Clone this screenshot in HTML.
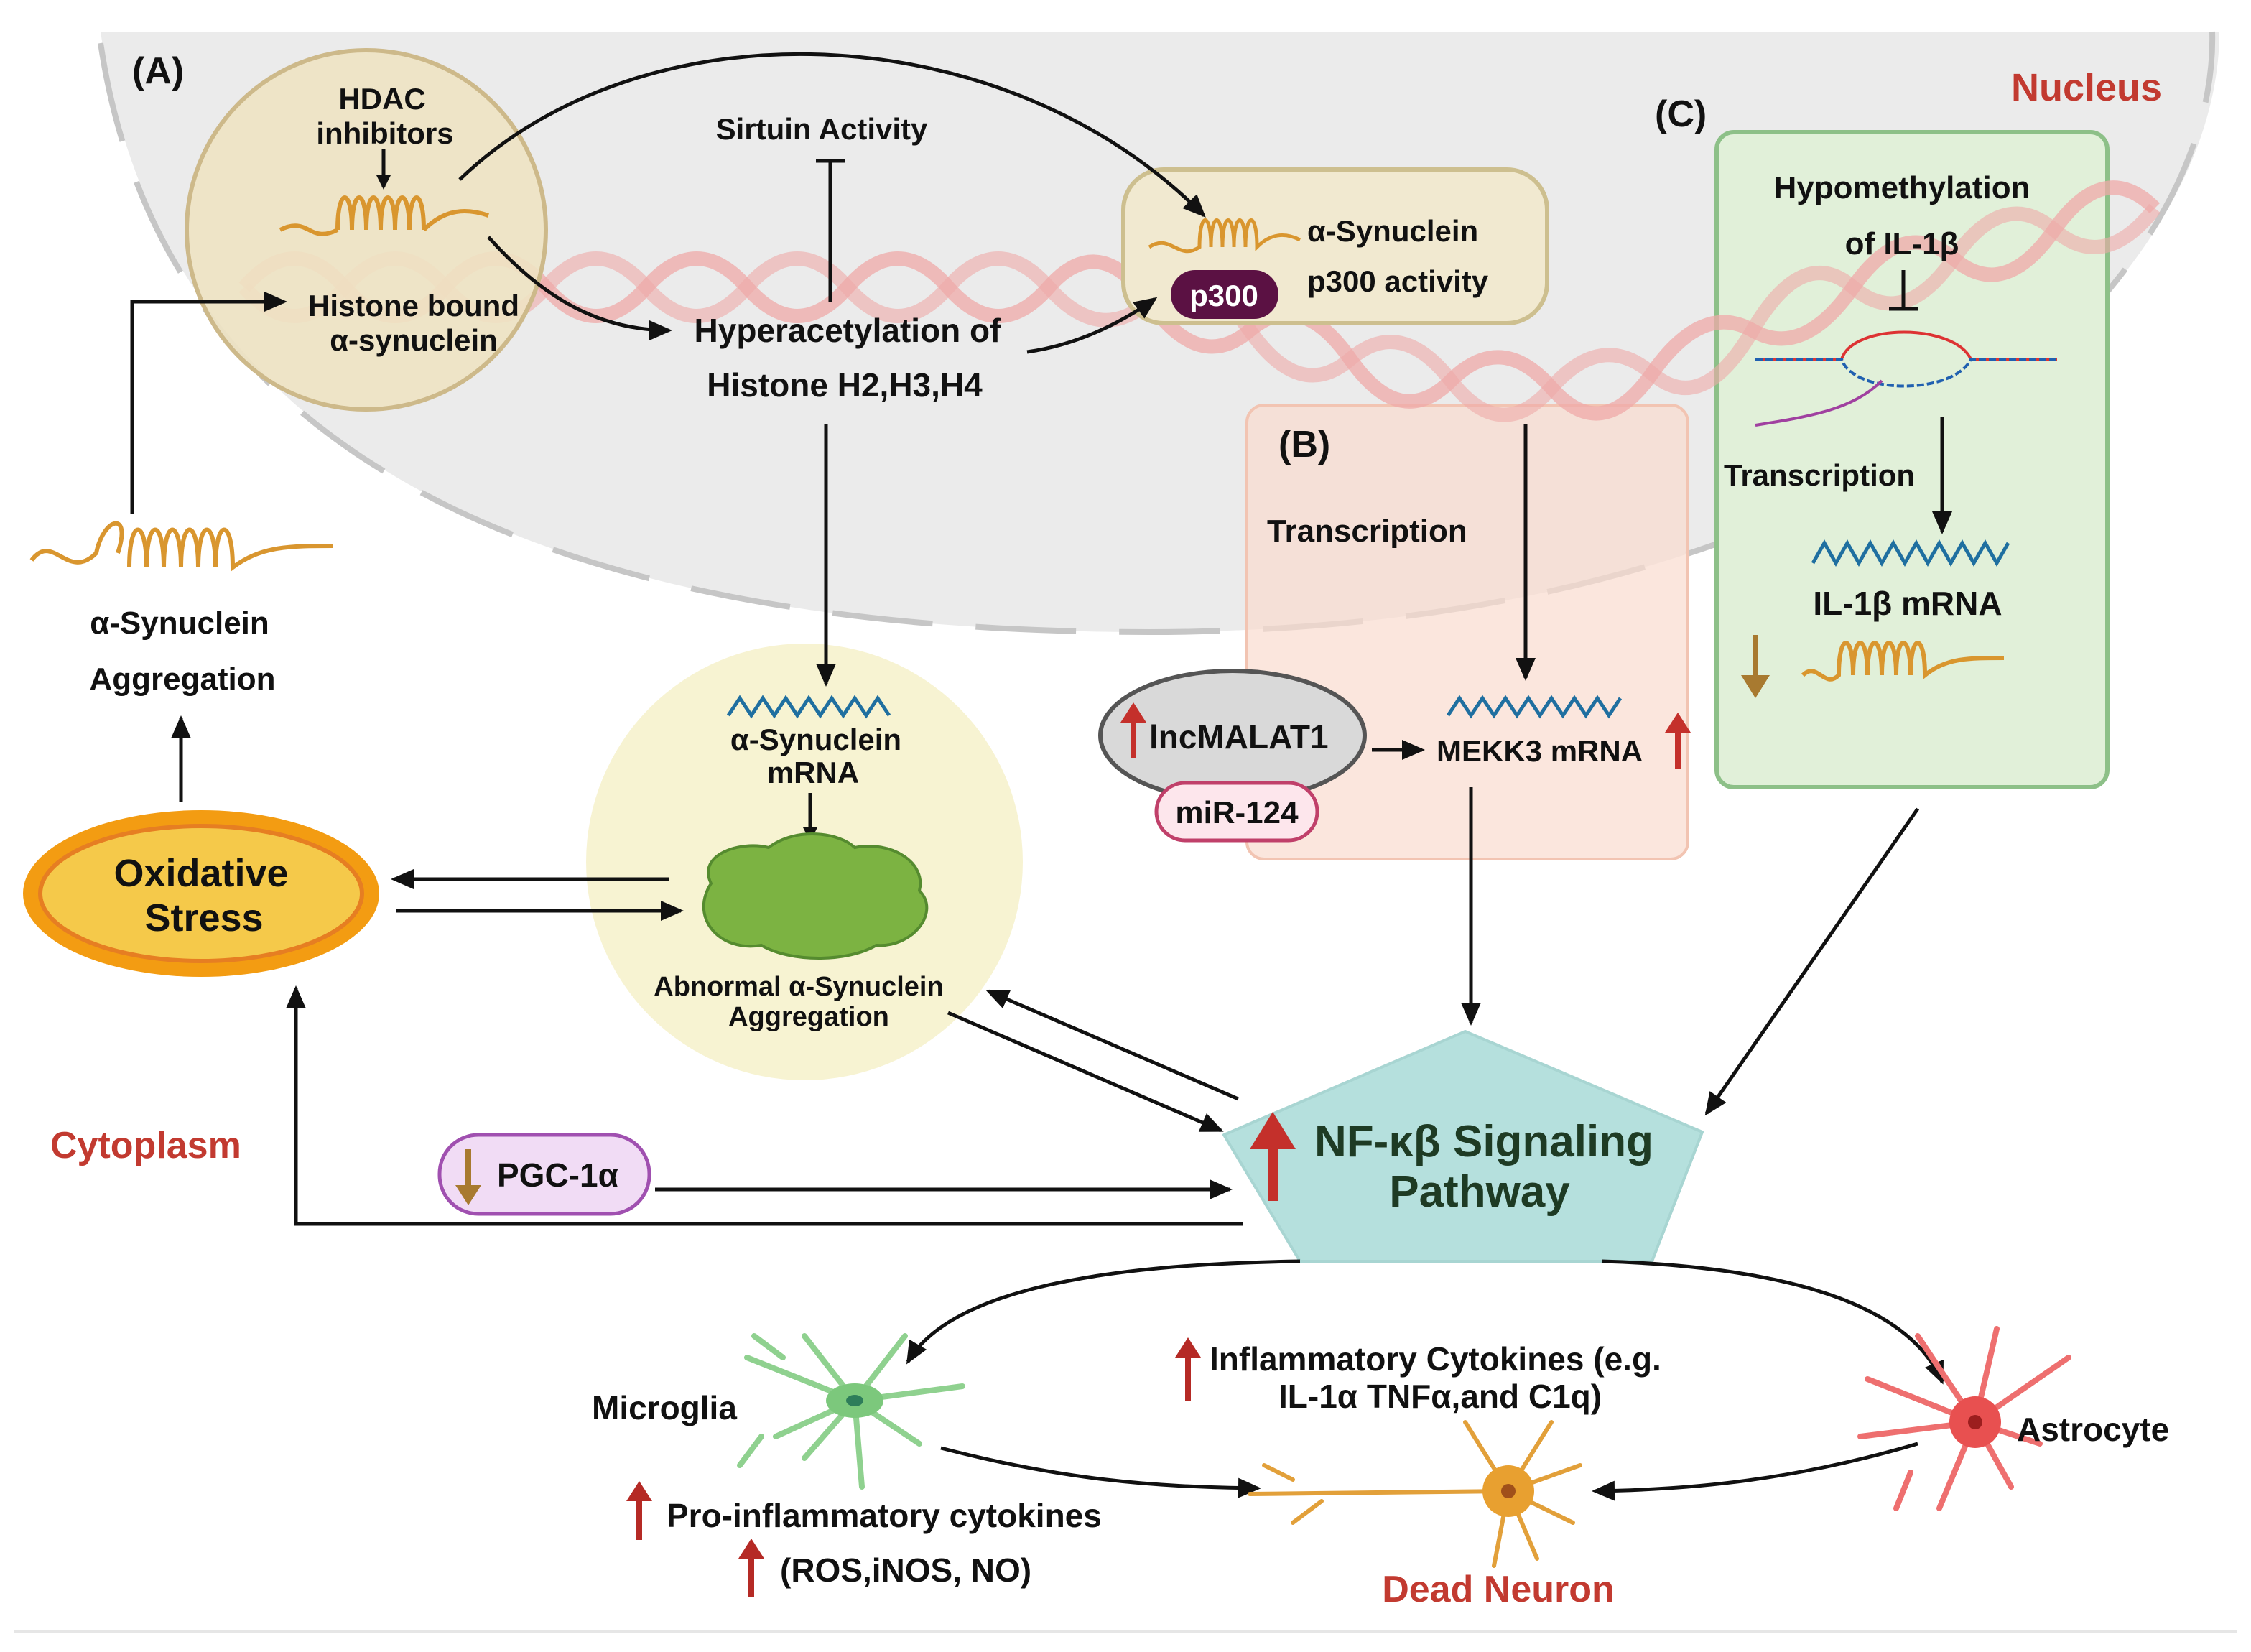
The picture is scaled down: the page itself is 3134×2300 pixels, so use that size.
<!DOCTYPE html>
<html><head><meta charset="utf-8"><style>
html,body{margin:0;padding:0;background:#fff}
svg{display:block}
text{font-family:"Liberation Sans",sans-serif;font-weight:bold;fill:#111}
</style></head><body>
<svg width="3134" height="2300" viewBox="0 0 1567 1150" xmlns="http://www.w3.org/2000/svg">
<defs>
<marker id="ah" markerWidth="10" markerHeight="10" refX="8" refY="5" orient="auto" markerUnits="userSpaceOnUse"><path d="M0,0 L10,5 L0,10 z" fill="#111"/></marker>
<marker id="ah2" markerWidth="16" markerHeight="14" refX="14" refY="7" orient="auto" markerUnits="userSpaceOnUse"><path d="M0,0 L16,7 L0,14 z" fill="#111"/></marker>
</defs>
<rect width="1567" height="1150" fill="#fff"/>
<!-- nucleus -->
<path d="M70,22 L1545,22 C1545,200 1300,440 800,440 C350,440 110,300 70,22 Z" fill="#ebebeb"/>
<path d="M70,30 C110,300 350,440 800,440 C1300,440 1545,200 1540,22" fill="none" stroke="#c6c6c6" stroke-width="4" stroke-dasharray="70,30"/>
<line x1="10" y1="1136" x2="1557" y2="1136" stroke="#e6e6e6" stroke-width="2"/>
<!-- boxes -->
<rect x="868" y="282" width="307" height="316" rx="12" fill="#f9dccf" fill-opacity="0.7" stroke="#f2c4b2" stroke-width="2"/>
<rect x="1195" y="92" width="272" height="456" rx="12" fill="#e1f0d9" stroke="#8dc088" stroke-width="3"/>
<!-- DNA helix -->
<path d="M170,200 Q205,160 240,200 T310,200 T380,200 T450,200 T520,200 T590,200 T660,200 T730,200 T800,210 T870,230 T940,250 T1010,265 T1080,270 T1150,260 T1220,230 T1290,200 T1360,180 T1430,160 T1500,145" fill="none" stroke="#efaaa8" stroke-width="10" stroke-opacity="0.75"/>
<path d="M170,200 Q205,240 240,200 T310,200 T380,200 T450,200 T520,200 T590,200 T660,200 T730,200 T800,210 T870,230 T940,250 T1010,265 T1080,270 T1150,260 T1220,230 T1290,200 T1360,180 T1430,160 T1500,145" fill="none" stroke="#efaaa8" stroke-width="10" stroke-opacity="0.6"/>
<circle cx="255" cy="160" r="125" fill="#eee3c3" fill-opacity="0.9" stroke="#cdb98a" stroke-width="3"/>
<rect x="782" y="118" width="295" height="107" rx="28" fill="#f1e9d0" stroke="#cdbf8f" stroke-width="3"/>
<circle cx="560" cy="600" r="152" fill="#f7f3d2"/>
<!-- labels -->
<text x="92" y="58" font-size="26">(A)</text>
<text x="1400" y="70" font-size="27" fill="#c23a30" style="fill:#c23a30">Nucleus</text>
<text x="1152" y="88" font-size="26">(C)</text>
<text x="890" y="318" font-size="26">(B)</text>
<text x="266" y="76" font-size="21" text-anchor="middle">HDAC</text>
<text x="268" y="100" font-size="21" text-anchor="middle">inhibitors</text>
<line x1="267" y1="104" x2="267" y2="130" stroke="#111" stroke-width="2.5" marker-end="url(#ah)"/>
<path d="M195,160 c20,-10 20,10 40,0 M235,160 c0,-30 10,-30 10,0 c0,-30 10,-30 10,0 c0,-30 10,-30 10,0 c0,-30 10,-30 10,0 c0,-30 10,-30 10,0 c0,-30 10,-30 10,0 M295,160 c15,-15 30,-15 45,-10" fill="none" stroke="#d9962f" stroke-width="3"/>
<text x="288" y="220" font-size="21" text-anchor="middle">Histone bound</text>
<text x="288" y="244" font-size="21" text-anchor="middle">α-synuclein</text>
<text x="572" y="97" font-size="21" text-anchor="middle">Sirtuin Activity</text>
<line x1="578" y1="210" x2="578" y2="112" stroke="#111" stroke-width="2.5"/>
<line x1="568" y1="112" x2="588" y2="112" stroke="#111" stroke-width="2.5"/>
<text x="590" y="238" font-size="23" text-anchor="middle">Hyperacetylation of</text>
<text x="588" y="276" font-size="23" text-anchor="middle">Histone H2,H3,H4</text>
<path d="M320,125 C450,0 700,10 838,150" fill="none" stroke="#111" stroke-width="2.5" marker-end="url(#ah2)"/>
<path d="M340,165 C380,210 420,230 466,230" fill="none" stroke="#111" stroke-width="2.5" marker-end="url(#ah2)"/>
<path d="M715,245 C750,240 780,225 804,208" fill="none" stroke="#111" stroke-width="2.5" marker-end="url(#ah2)"/>
<path d="M800,172 c15,-10 20,10 35,0 c0,-25 8,-25 8,0 c0,-25 8,-25 8,0 c0,-25 8,-25 8,0 c0,-25 8,-25 8,0 c0,-25 8,-25 8,0 c10,-10 20,-10 30,-5" fill="none" stroke="#d9962f" stroke-width="2.5"/>
<rect x="815" y="188" width="75" height="34" rx="17" fill="#5b1143"/>
<text x="852" y="213" font-size="21" text-anchor="middle" style="fill:#fff">p300</text>
<text x="910" y="168" font-size="21">α-Synuclein</text>
<text x="910" y="203" font-size="21">p300 activity</text>
<text x="1324" y="138" font-size="22" text-anchor="middle">Hypomethylation</text>
<text x="1324" y="177" font-size="22" text-anchor="middle">of IL-1β</text>
<line x1="1325" y1="188" x2="1325" y2="215" stroke="#111" stroke-width="2.5"/>
<line x1="1315" y1="215" x2="1335" y2="215" stroke="#111" stroke-width="2.5"/>
<path d="M1222,250 l60,0 C1290,225 1360,225 1372,250 l60,0" fill="none" stroke="#d33" stroke-width="2"/>
<path d="M1222,250 l60,0 C1290,275 1360,275 1372,250 l60,0" fill="none" stroke="#2060b0" stroke-width="2" stroke-dasharray="5,2"/>
<path d="M1222,296 C1260,290 1290,285 1310,265" fill="none" stroke="#a040a0" stroke-width="2"/>
<line x1="1352" y1="290" x2="1352" y2="370" stroke="#111" stroke-width="2.5" marker-end="url(#ah2)"/>
<text x="1200" y="338" font-size="21">Transcription</text>
<path d="M1262,392 l8,-14 l8,14 l8,-14 l8,14 l8,-14 l8,14 l8,-14 l8,14 l8,-14 l8,14 l8,-14 l8,14 l8,-14 l8,14 l8,-14 l8,14 l8,-14" fill="none" stroke="#1f6fa0" stroke-width="2.5"/>
<text x="1328" y="428" font-size="23" text-anchor="middle">IL-1β mRNA</text>
<line x1="1222" y1="442" x2="1222" y2="482" stroke="#a87a30" stroke-width="4"/>
<path d="M1212,470 l10,16 l10,-16 z" fill="#a87a30"/>
<path d="M1255,470 c10,-10 15,10 25,0 c0,-30 10,-30 10,0 c0,-30 10,-30 10,0 c0,-30 10,-30 10,0 c0,-30 10,-30 10,0 c0,-30 10,-30 10,0 c0,-30 10,-30 10,0 c15,-12 30,-12 55,-12" fill="none" stroke="#d9962f" stroke-width="3"/>
<text x="882" y="377" font-size="22">Transcription</text>
<line x1="1062" y1="295" x2="1062" y2="472" stroke="#111" stroke-width="2.5" marker-end="url(#ah2)"/>
<path d="M1008,498 l8,-12 l8,12 l8,-12 l8,12 l8,-12 l8,12 l8,-12 l8,12 l8,-12 l8,12 l8,-12 l8,12 l8,-12 l8,12 l8,-12" fill="none" stroke="#1f6fa0" stroke-width="2.5"/>
<text x="1000" y="530" font-size="21">MEKK3 mRNA</text>
<line x1="1168" y1="535" x2="1168" y2="505" stroke="#c4302b" stroke-width="4"/>
<path d="M1159,510 l9,-14 l9,14 z" fill="#c4302b"/>
<ellipse cx="858" cy="512" rx="92" ry="45" fill="#d9d9d9" stroke="#555" stroke-width="3"/>
<line x1="789" y1="528" x2="789" y2="498" stroke="#c4302b" stroke-width="4"/>
<path d="M780,503 l9,-14 l9,14 z" fill="#c4302b"/>
<text x="800" y="521" font-size="23">lncMALAT1</text>
<rect x="805" y="545" width="112" height="40" rx="20" fill="#fde6ec" stroke="#c0406a" stroke-width="2.5"/>
<text x="861" y="573" font-size="22" text-anchor="middle">miR-124</text>
<line x1="955" y1="522" x2="990" y2="522" stroke="#111" stroke-width="2.5" marker-end="url(#ah2)"/>
<line x1="1024" y1="548" x2="1024" y2="712" stroke="#111" stroke-width="2.5" marker-end="url(#ah2)"/>
<line x1="1335" y1="563" x2="1188" y2="775" stroke="#111" stroke-width="2.5" marker-end="url(#ah2)"/>
<!-- left side -->
<path d="M22,390 c15,-20 25,15 45,-5 c5,-25 25,-30 15,0 M90,395 c0,-35 12,-35 12,0 c0,-35 12,-35 12,0 c0,-35 12,-35 12,0 c0,-35 12,-35 12,0 c0,-35 12,-35 12,0 c0,-35 12,-35 12,0 c20,-15 40,-15 70,-15" fill="none" stroke="#d9962f" stroke-width="3"/>
<text x="125" y="441" font-size="22" text-anchor="middle">α-Synuclein</text>
<text x="127" y="480" font-size="22" text-anchor="middle">Aggregation</text>
<polyline points="92,358 92,210 198,210" fill="none" stroke="#111" stroke-width="2.5" marker-end="url(#ah2)"/>
<line x1="126" y1="558" x2="126" y2="500" stroke="#111" stroke-width="2.5" marker-end="url(#ah2)"/>
<ellipse cx="140" cy="622" rx="124" ry="58" fill="#f39c12"/>
<ellipse cx="140" cy="622" rx="112" ry="47" fill="#f5c94a" stroke="#e67e22" stroke-width="3"/>
<text x="140" y="617" font-size="27" text-anchor="middle">Oxidative</text>
<text x="142" y="648" font-size="27" text-anchor="middle">Stress</text>
<line x1="466" y1="612" x2="274" y2="612" stroke="#111" stroke-width="2.5" marker-end="url(#ah2)"/>
<line x1="276" y1="634" x2="474" y2="634" stroke="#111" stroke-width="2.5" marker-end="url(#ah2)"/>
<line x1="575" y1="295" x2="575" y2="476" stroke="#111" stroke-width="2.5" marker-end="url(#ah2)"/>
<path d="M507,498 l8,-12 l8,12 l8,-12 l8,12 l8,-12 l8,12 l8,-12 l8,12 l8,-12 l8,12 l8,-12 l8,12 l8,-12 l8,12" fill="none" stroke="#1f6fa0" stroke-width="2.5"/>
<text x="568" y="522" font-size="21" text-anchor="middle">α-Synuclein</text>
<text x="566" y="545" font-size="21" text-anchor="middle">mRNA</text>
<line x1="564" y1="552" x2="564" y2="584" stroke="#111" stroke-width="2.5" marker-end="url(#ah)"/>
<path d="M495,615 c-10,-20 20,-30 40,-25 c20,-15 50,-10 60,0 c25,-5 50,10 45,30 c15,15 -5,40 -30,38 c-20,12 -60,12 -80,0 c-30,5 -50,-20 -35,-43 z" fill="#7cb342" stroke="#558b2f" stroke-width="2"/>
<text x="556" y="693" font-size="19" text-anchor="middle">Abnormal α-Synuclein</text>
<text x="563" y="714" font-size="19" text-anchor="middle">Aggregation</text>
<line x1="660" y1="705" x2="850" y2="787" stroke="#111" stroke-width="2.5" marker-end="url(#ah2)"/>
<line x1="862" y1="765" x2="688" y2="690" stroke="#111" stroke-width="2.5" marker-end="url(#ah2)"/>
<text x="35" y="806" font-size="26" style="fill:#c23a30">Cytoplasm</text>
<rect x="306" y="790" width="146" height="55" rx="27" fill="#f1dcf5" stroke="#a050b0" stroke-width="2.5"/>
<line x1="326" y1="800" x2="326" y2="830" stroke="#a87a30" stroke-width="4"/>
<path d="M317,825 l9,14 l9,-14 z" fill="#a87a30"/>
<text x="346" y="826" font-size="23">PGC-1α</text>
<line x1="456" y1="828" x2="856" y2="828" stroke="#111" stroke-width="2.5" marker-end="url(#ah2)"/>
<polyline points="865,852 206,852 206,688" fill="none" stroke="#111" stroke-width="2.5" marker-end="url(#ah2)"/>
<!-- NF-kB -->
<path d="M1020,718 L1185,788 L1150,878 L905,878 L852,790 Z" fill="#b5e0dd" stroke="#a8d5d2" stroke-width="2" stroke-linejoin="round"/>
<line x1="886" y1="836" x2="886" y2="790" stroke="#c4302b" stroke-width="7"/>
<path d="M870,800 l16,-26 l16,26 z" fill="#c4302b"/>
<text x="1033" y="805" font-size="31" text-anchor="middle" style="fill:#1e3b24">NF-κβ Signaling</text>
<text x="1030" y="840" font-size="31" text-anchor="middle" style="fill:#1e3b24">Pathway</text>
<!-- bottom -->
<path d="M905,878 C760,880 660,900 632,948" fill="none" stroke="#111" stroke-width="2.5" marker-end="url(#ah2)"/>
<path d="M1115,878 C1250,882 1330,910 1352,962" fill="none" stroke="#111" stroke-width="2.5" marker-end="url(#ah2)"/>
<path d="M655,1008 C740,1030 800,1035 876,1036" fill="none" stroke="#111" stroke-width="2.5" marker-end="url(#ah2)"/>
<path d="M1335,1005 C1250,1030 1180,1037 1110,1038" fill="none" stroke="#111" stroke-width="2.5" marker-end="url(#ah2)"/>
<g stroke="#8fd18f" stroke-width="4" fill="none" stroke-linecap="round">
<path d="M595,975 L520,945 M595,975 L540,1000 M595,975 L560,930 M595,975 L630,930 M595,975 L670,965 M595,975 L640,1005 M595,975 L600,1035 M595,975 L560,1015 M530,1000 L515,1020 M545,945 L525,930"/>
</g>
<ellipse cx="595" cy="975" rx="20" ry="12" fill="#7cc87c"/>
<ellipse cx="595" cy="975" rx="6" ry="4" fill="#2e7d5a"/>
<g stroke="#e2a03a" stroke-width="3" fill="none" stroke-linecap="round">
<path d="M1050,1038 L870,1040 M1050,1038 L1020,990 M1050,1038 L1080,990 M1050,1038 L1100,1020 M1050,1038 L1095,1060 M1050,1038 L1040,1090 M1050,1038 L1070,1085 M900,1030 L880,1020 M920,1045 L900,1060"/>
</g>
<circle cx="1050" cy="1038" r="18" fill="#e8a030"/>
<circle cx="1050" cy="1038" r="5" fill="#a0501a"/>
<g stroke="#ee6f6f" stroke-width="4" fill="none" stroke-linecap="round">
<path d="M1375,990 L1300,960 M1375,990 L1295,1000 M1375,990 L1335,930 M1375,990 L1390,925 M1375,990 L1440,945 M1375,990 L1400,1035 M1375,990 L1350,1050 M1375,990 L1420,1005 M1330,1025 L1320,1050"/>
</g>
<circle cx="1375" cy="990" r="18" fill="#e85050"/>
<circle cx="1375" cy="990" r="5" fill="#9c1e1e"/>
<text x="412" y="988" font-size="23">Microglia</text>
<text x="1404" y="1003" font-size="23">Astrocyte</text>
<line x1="827" y1="975" x2="827" y2="940" stroke="#b52a25" stroke-width="4"/>
<path d="M818,945 l9,-14 l9,14 z" fill="#b52a25"/>
<text x="842" y="954" font-size="23">Inflammatory Cytokines (e.g.</text>
<text x="890" y="980" font-size="23">IL-1α TNFα,and C1q)</text>
<line x1="445" y1="1072" x2="445" y2="1040" stroke="#b52a25" stroke-width="4"/>
<path d="M436,1045 l9,-14 l9,14 z" fill="#b52a25"/>
<text x="464" y="1063" font-size="23">Pro-inflammatory cytokines</text>
<line x1="523" y1="1112" x2="523" y2="1080" stroke="#b52a25" stroke-width="4"/>
<path d="M514,1085 l9,-14 l9,14 z" fill="#b52a25"/>
<text x="543" y="1101" font-size="23">(ROS,iNOS, NO)</text>
<text x="1043" y="1115" font-size="26" text-anchor="middle" style="fill:#c23a30">Dead Neuron</text>
</svg>
</body></html>
